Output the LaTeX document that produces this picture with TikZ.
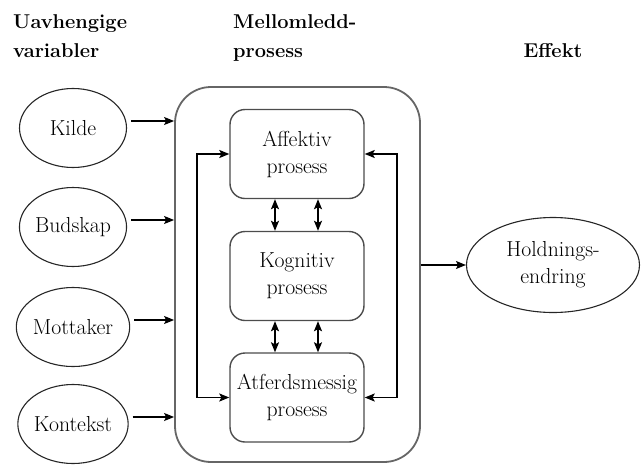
\documentclass[tikz,border=0pt]{standalone}
\usepackage{fontspec}
\usetikzlibrary{shapes.geometric,arrows.meta}
\begin{document}
\begin{tikzpicture}[x=1pt,y=-1pt,
  txt/.style={font=\fontsize{21.7}{27}\selectfont\addfontfeatures{FakeBold=0.6}, align=center, inner sep=0pt},
  head/.style={font=\fontsize{20}{28}\selectfont\bfseries\addfontfeatures{FakeBold=1.2}, inner sep=0pt, anchor=base west},
  var/.style={txt, ellipse, draw=black!85, line width=1.1pt, minimum width=107pt, minimum height=79pt},
  proc/.style={txt, rectangle, draw=black!70, line width=1.4pt, rounded corners=15pt, minimum width=134pt, minimum height=89pt},
  outer/.style={rectangle, draw=black!60, line width=1.8pt, rounded corners=36pt, minimum width=245pt, minimum height=375pt, inner sep=0pt},
  tip/.tip={Stealth[length=10pt,width=8pt,inset=2pt]},
  arr/.style={-tip, line width=1.3pt, black},
  darr/.style={tip-tip, line width=1.3pt, black}]
\useasboundingbox (0,0) rectangle (641,464);
% headings
\node[head] (h1a) at (13,28) {Uavhengige};
\node[head] (h1b) at (13,57) {variabler};
\node[head] (h2a) at (233,28) {Mellomledd-};
\node[head] (h2b) at (233,57) {prosess};
\node[head, anchor=base] (h3) at (553,57) {Effekt};
% outer box
\node[outer] (big) at (297.5,274.5) {};
% left variables
\node[var] (kilde) at (73,128) {Kilde};
\node[var] (bud) at (73,227) {Budskap};
\node[var] (mott) at (73,327) {Mottaker};
\node[var] (kont) at (73,424) {Kontekst};
% processes
\node[proc] (aff) at (297,154) {Affektiv\\prosess};
\node[proc] (kog) at (297,276) {Kognitiv\\prosess};
\node[proc] (atf) at (297,397.5) {Atferdsmessig\\prosess};
% effect
\node[txt, ellipse, draw=black!85, line width=1.1pt, minimum width=173pt, minimum height=95pt] (hold) at (553,265) {Holdnings-\\endring};
% arrows from variables
\foreach \n in {kilde,bud,mott,kont}{
  \coordinate (\n s) at ([shift={(4pt,7pt)}]\n.east);
  \draw[arr] (\n s) -- (\n s -| big.west);
}
% feedback loops
\coordinate (L) at (197,0);
\coordinate (R) at (397,0);
\draw[darr] (aff.west) -- (aff.west -| L) -- (atf.west -| L) -- (atf.west);
\draw[darr] (aff.east) -- (aff.east -| R) -- (atf.east -| R) -- (atf.east);
% vertical double arrows
\draw[darr] ([xshift=-22pt]aff.south) -- ([xshift=-22pt]kog.north);
\draw[darr] ([xshift=21pt]aff.south) -- ([xshift=21pt]kog.north);
\draw[darr] ([xshift=-22pt]kog.south) -- ([xshift=-22pt]atf.north);
\draw[darr] ([xshift=21pt]kog.south) -- ([xshift=21pt]atf.north);
% to effect
\coordinate (bo) at ([yshift=9.5pt]big.east);
\draw[arr] (bo) -- (bo -| hold.west);
\end{tikzpicture}
\end{document}
